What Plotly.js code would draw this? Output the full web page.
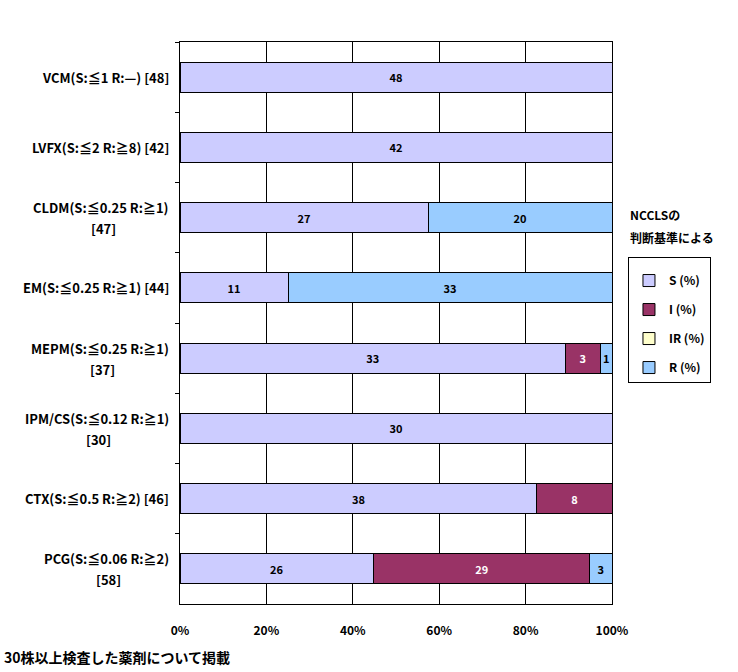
<!DOCTYPE html>
<html><head><meta charset="utf-8">
<script src="https://cdn.plot.ly/plotly-3.0.1.min.js"></script>
<style>body{margin:0;background:#fff}#chart{width:738px;height:672px}</style>
</head><body><div id="chart"></div>
<script>
const categories = [
  "VCM(S:≦1 R:—) [48]",
  "LVFX(S:≦2 R:≧8) [42]",
  "CLDM(S:≦0.25 R:≧1)<br>[47]",
  "EM(S:≦0.25 R:≧1) [44]",
  "MEPM(S:≦0.25 R:≧1)<br>[37]",
  "IPM/CS(S:≦0.12 R:≧1)<br>[30]",
  "CTX(S:≦0.5 R:≧2) [46]",
  "PCG(S:≦0.06 R:≧2)<br>[58]"
];
const seriesNames = ["S (%)", "I (%)", "IR (%)", "R (%)"];
const S  = [48, 42, 27, 11, 33, 30, 38, 26];
const I  = [0, 0, 0, 0, 3, 0, 8, 29];
const IR = [0, 0, 0, 0, 0, 0, 0, 0];
const R  = [0, 0, 20, 33, 1, 0, 0, 3];
const seriesColors = ["#ccccff", "#993366", "#ffffcc", "#99ccff"];
const textColors = ["#000000", "#ffffff", "#000000", "#000000"];
const xTickVals = [0, 20, 40, 60, 80, 100];
const xTickText = ["0%", "20%", "40%", "60%", "80%", "100%"];
const legendTitle1 = "NCCLSの";
const legendTitle2 = "判断基準による";
const footer = "30株以上検査した薬剤について掲載";

const FONT = "'Noto Sans CJK JP', 'DejaVu Sans', sans-serif";
const LABEL_SIZE = 13;
const all = [S, I, IR, R];
const traces = all.map((vals, k) => ({
  type: "bar",
  orientation: "h",
  name: seriesNames[k],
  legendgroup: "g" + k,
  y: categories,
  x: vals,
  text: vals.map(v => v > 0 ? String(v) : ""),
  textposition: "inside",
  insidetextanchor: "middle",
  textangle: 0,
  constraintext: "none",
  textfont: {family: FONT, size: 11, color: textColors[k], weight: "bold"},
  marker: {color: seriesColors[k], line: {color: "#000", width: 1}},
  hoverinfo: "skip"
}));

const ctx = document.createElement("canvas").getContext("2d");
ctx.font = "bold " + LABEL_SIZE + "px " + FONT;
const labelAnnotations = [];
categories.forEach(c => {
  const lines = c.split("<br>");
  const base = {xref: "paper", yref: "y", x: 0, y: c, yanchor: "middle", showarrow: false,
                font: {family: FONT, size: LABEL_SIZE, weight: "bold"}};
  if (lines.length === 1) {
    labelAnnotations.push(Object.assign({}, base, {text: lines[0], xanchor: "right", xshift: -9}));
  } else {
    const w = ctx.measureText(lines[0]).width;
    labelAnnotations.push(Object.assign({}, base, {text: lines[0], xanchor: "right", xshift: -9, yshift: 10}));
    labelAnnotations.push(Object.assign({}, base, {text: lines[1], xanchor: "center", xshift: -9 - w / 2, yshift: -11}));
  }
});

const layout = {
  width: 738, height: 672,
  margin: {l: 180, r: 126, t: 42, b: 68},
  paper_bgcolor: "#fff", plot_bgcolor: "#fff",
  barmode: "stack", barnorm: "percent", bargap: 0.57,
  font: {family: FONT, size: 12, color: "#000", weight: "bold"},
  showlegend: true,
  legend: {
    x: 1.037, y: 0.617, xanchor: "left", yanchor: "top",
    bordercolor: "#000", borderwidth: 1, bgcolor: "#fff",
    traceorder: "grouped", tracegroupgap: 10,
    title: {text: "\u00A0", font: {family: FONT, size: 6}},
    font: {family: FONT, size: 12, weight: "bold"}
  },
  xaxis: {
    range: [0, 100], tickvals: xTickVals, ticktext: xTickText,
    showgrid: true, gridcolor: "#000", gridwidth: 1,
    showline: true, linecolor: "#000", linewidth: 1, mirror: true,
    ticks: "", ticklabelstandoff: 16, zeroline: false, fixedrange: true,
    tickfont: {family: FONT, size: 12, weight: "bold"}
  },
  yaxis: {
    type: "category", autorange: "reversed",
    tickson: "boundaries", ticks: "outside", ticklen: 4, tickcolor: "#000",
    showgrid: false, showline: true, linecolor: "#000", linewidth: 1, mirror: true,
    showticklabels: false, fixedrange: true
  },
  annotations: labelAnnotations.concat([
    {xref: "paper", yref: "paper", x: 1.037, y: (604 - 215) / 562, xanchor: "left", yanchor: "middle",
     text: legendTitle1, showarrow: false, font: {family: FONT, size: 12, weight: "bold"}},
    {xref: "paper", yref: "paper", x: 1.037, y: (604 - 237) / 562, xanchor: "left", yanchor: "middle",
     text: legendTitle2, showarrow: false, font: {family: FONT, size: 12, weight: "bold"}},
    {xref: "paper", yref: "paper", x: (2 - 180) / 432, y: (604 - 657) / 562, xanchor: "left", yanchor: "middle",
     text: footer, showarrow: false, font: {family: FONT, size: 14, weight: "bold"}}
  ])
};
Plotly.newPlot("chart", traces, layout, {displayModeBar: false, staticPlot: true});
</script></body></html>
